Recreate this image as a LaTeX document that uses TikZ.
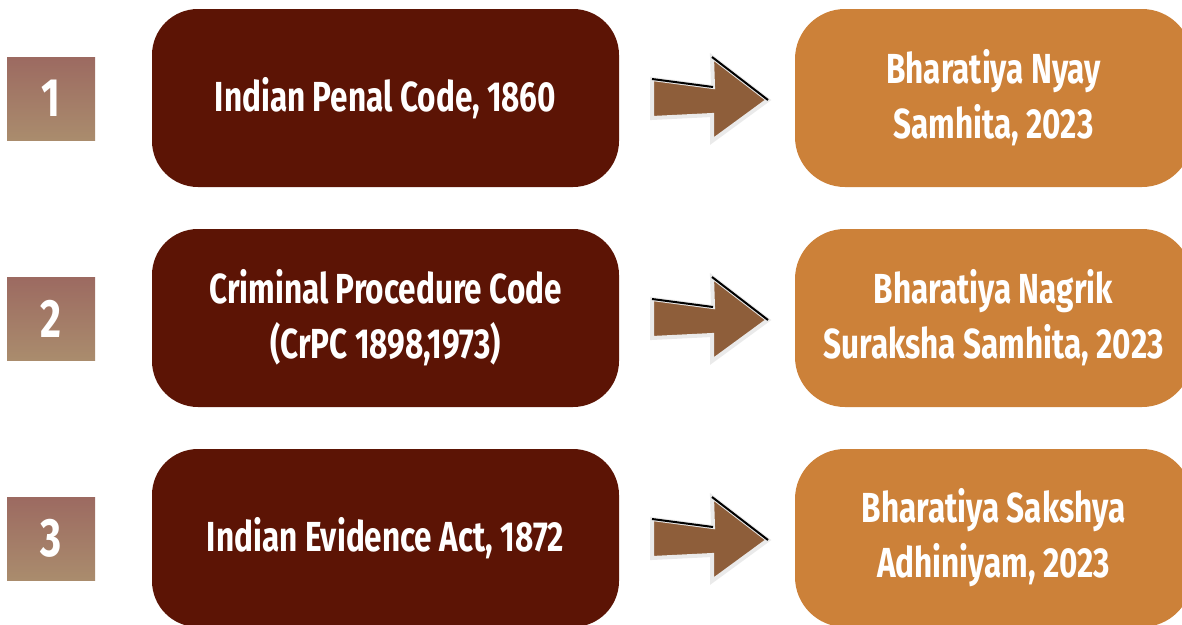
\documentclass[tikz,border=0pt]{standalone}
\usepackage{fontspec}
\newfontfamily\cond{Fira Sans}[FakeStretch=0.75]
\definecolor{numtop}{HTML}{9C6A61}
\definecolor{numbot}{HTML}{AA8C6D}
\definecolor{darkbox}{HTML}{5C1405}
\definecolor{orangebox}{HTML}{CC8139}
\definecolor{arrowfill}{HTML}{8E5E3A}
\definecolor{arrowedge}{HTML}{EAEAEA}
\begin{document}
\begin{tikzpicture}[x=1pt,y=-1pt,
  numbox/.style={rectangle, minimum width=88pt, minimum height=83pt, inner sep=0pt,
    top color=numtop, bottom color=numbot, text=white, font=\cond\bfseries\fontsize{54}{54}\selectfont},
  oldbox/.style={rectangle, rounded corners=46pt, fill=darkbox, minimum width=467pt, minimum height=178pt,
    text=white, align=center, font=\cond\bfseries\fontsize{42}{55}\selectfont},
  newbox/.style={rectangle, rounded corners=50pt, fill=orangebox, minimum width=397pt, minimum height=178pt,
    text=white, align=center, font=\cond\bfseries\fontsize{42}{55}\selectfont},
  arrowbody/.style={fill=arrowfill, draw=arrowedge, line width=4pt, line join=miter},
  arrowshadow/.style={draw=black, line width=2pt}
]
\useasboundingbox (0,0) rectangle (1182,624);
\clip (0,0) rectangle (1182,624);

\node[numbox] (n1) at (51,98.5) {1};
\node[numbox] (n2) at (51,318.5) {2};
\node[numbox] (n3) at (51,538.5) {3};

\node[oldbox] (o1) at (385.5,98) {Indian Penal Code, 1860};
\node[oldbox] (o2) at (385.5,318) {Criminal Procedure Code\\(CrPC 1898,1973)};
\node[oldbox] (o3) at (385.5,538) {Indian Evidence Act, 1872};

\node[newbox] (b1) at (993.5,98) {Bharatiya Nyay\\Samhita, 2023};
\node[newbox] (b2) at (993.5,318) {Bharatiya Nagrik\\Suraksha Samhita, 2023};
\node[newbox] (b3) at (993.5,538) {Bharatiya Sakshya\\Adhiniyam, 2023};

\foreach \i in {0,1,2}{
  \begin{scope}[shift={(0,220*\i)}]
    \coordinate (stl) at (652,79);
    \coordinate (str) at (713,87);
    \coordinate (ht) at (712,57);
    \coordinate (tip) at (768,100);
    \coordinate (hb) at (712,141);
    \coordinate (sbr) at (712,115);
    \coordinate (sbl) at (652,118);
    \draw[arrowbody] (stl) -- (str) -- (ht) -- (tip) -- (hb) -- (sbr) -- (sbl) -- cycle;
    \draw[arrowshadow] (stl) -- (str);
    \draw[arrowshadow] (ht) -- (tip);
  \end{scope}
}
\end{tikzpicture}
\end{document}
